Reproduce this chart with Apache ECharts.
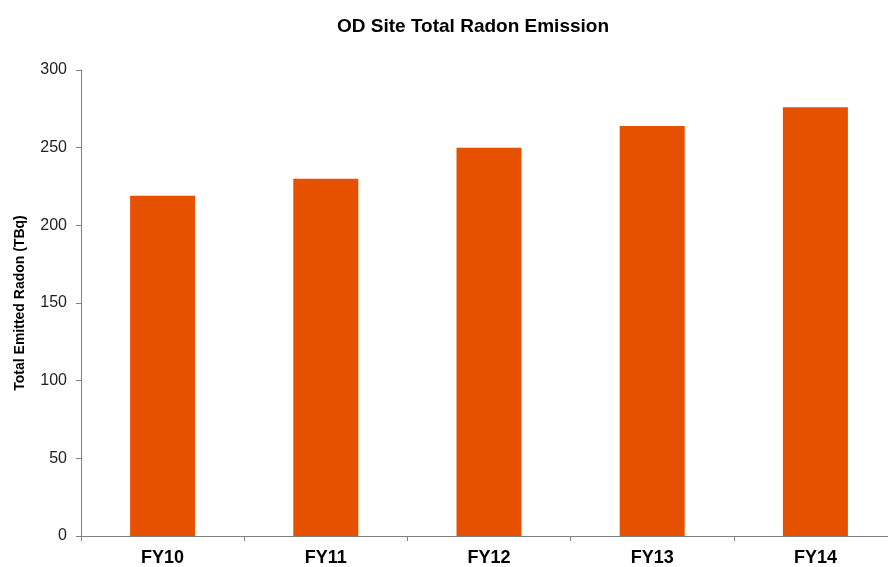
<!DOCTYPE html>
<html>
<head>
<meta charset="utf-8">
<script src="https://cdn.jsdelivr.net/npm/echarts@6/dist/echarts.min.js"></script>
<style>
  html, body { margin: 0; padding: 0; background: #fff; overflow: hidden; }
  #wrap { width: 888px; height: 567px; overflow: hidden; }
  /* the plot runs slightly past the right edge of the view */
  #chart { width: 898px; height: 567px; }
</style>
</head>
<body>
<div id="wrap"><div id="chart"></div></div>
<script>
// Fiscal years and total emitted radon per year (TBq)
const years = ['FY10', 'FY11', 'FY12', 'FY13', 'FY14'];
const radonTBq = [219, 230, 250, 264, 276];
const yTicks = { min: 0, max: 300, interval: 50 };

const chart = echarts.init(document.getElementById('chart'), null, { renderer: 'canvas' });

chart.setOption({
  backgroundColor: '#ffffff',
  animation: false,
  title: {
    text: 'OD Site Total Radon Emission',
    left: 332,
    top: 12,
    textStyle: {
      fontFamily: 'Liberation Sans, Arial, sans-serif',
      fontSize: 19,
      fontWeight: 'bold',
      color: '#000'
    }
  },
  grid: {
    left: 81,
    top: 70,
    right: 1,
    height: 467,
    containLabel: false
  },
  xAxis: {
    type: 'category',
    data: years,
    axisLine: { lineStyle: { color: '#808080', width: 1 } },
    axisTick: { show: true, alignWithLabel: false, length: 5, lineStyle: { color: '#808080' } },
    axisLabel: {
      margin: 13,
      fontFamily: 'Liberation Sans, Arial, sans-serif',
      fontSize: 18,
      fontWeight: 'bold',
      color: '#000'
    }
  },
  yAxis: {
    type: 'value',
    min: yTicks.min,
    max: yTicks.max,
    interval: yTicks.interval,
    name: 'Total Emitted Radon (TBq)',
    nameLocation: 'middle',
    nameGap: 54,
    nameTextStyle: {
      fontFamily: 'Liberation Sans, Arial, sans-serif',
      fontSize: 14,
      fontWeight: 'bold',
      color: '#000'
    },
    axisLine: { show: true, lineStyle: { color: '#808080', width: 1 } },
    axisTick: { show: true, length: 5, lineStyle: { color: '#808080' } },
    splitLine: { show: false },
    axisLabel: {
      margin: 14,
      fontFamily: 'Liberation Sans, Arial, sans-serif',
      fontSize: 16,
      color: '#222'
    }
  },
  series: [{
    type: 'bar',
    data: radonTBq,
    barWidth: 65,
    itemStyle: { color: '#E65100' }
  }]
});
</script>
</body>
</html>
